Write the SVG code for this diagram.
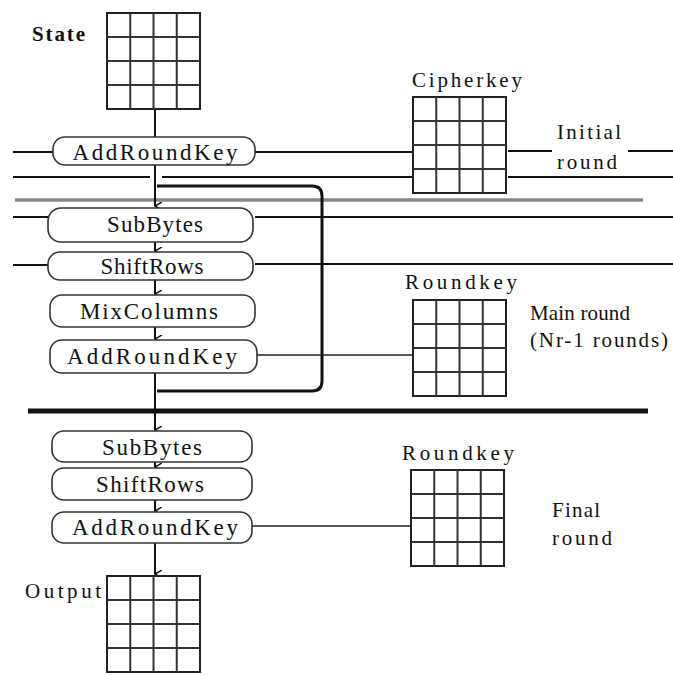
<svg xmlns="http://www.w3.org/2000/svg" width="673" height="675" viewBox="0 0 673 675">
<style>
.box{fill:#fff;stroke:#333;stroke-width:1.6}
.lbl{font-family:"Liberation Serif","DejaVu Serif",serif;font-size:23px;fill:#111;text-anchor:middle;dominant-baseline:central}
.side{font-family:"Liberation Serif","DejaVu Serif",serif;font-size:21px;fill:#111;dominant-baseline:central}
.ln{stroke:#111;stroke-width:2;fill:none}
.thin{stroke:#222;stroke-width:1.5;fill:none}
.grid rect{fill:#fff;stroke:#222;stroke-width:2}
.grid line{stroke:#333;stroke-width:2}
</style>
<defs>
<marker id="ah" markerWidth="8" markerHeight="8" refX="4" refY="7" orient="auto" markerUnits="userSpaceOnUse">
<path d="M0,0 L4,7 L8,0" fill="none" stroke="#111" stroke-width="1.5"/>
</marker>
<g id="grid4" class="grid">
<rect x="0" y="0" width="93" height="96"/>
<line x1="23.25" y1="0" x2="23.25" y2="96"/>
<line x1="46.5" y1="0" x2="46.5" y2="96"/>
<line x1="69.75" y1="0" x2="69.75" y2="96"/>
<line x1="0" y1="24" x2="93" y2="24"/>
<line x1="0" y1="48" x2="93" y2="48"/>
<line x1="0" y1="72" x2="93" y2="72"/>
</g>
</defs>
<rect width="673" height="675" fill="#fff"/>

<g id="connectors">
<line class="ln" x1="13" y1="152" x2="53" y2="152"/>
<line class="ln" x1="255" y1="152" x2="413" y2="152"/>
<line class="ln" x1="508" y1="151" x2="552" y2="151"/>
<line class="ln" x1="628" y1="151" x2="673" y2="151"/>
<line class="ln" x1="13" y1="177" x2="150" y2="177"/>
<line class="ln" x1="162" y1="177" x2="413" y2="177"/>
<line class="ln" x1="508" y1="177" x2="673" y2="177"/>
<line x1="15" y1="200" x2="643" y2="200" stroke="#888" stroke-width="3.5"/>
<line class="ln" x1="13" y1="217" x2="48" y2="217"/>
<line class="ln" x1="255" y1="217" x2="673" y2="217"/>
<line class="ln" x1="13" y1="265" x2="48" y2="265"/>
<line class="ln" x1="255" y1="264" x2="673" y2="264" stroke-width="2.5"/>
<line x1="28" y1="411" x2="648" y2="411" stroke="#111" stroke-width="5"/>
<line class="ln" x1="155" y1="110" x2="155" y2="137"/>
<line class="ln" x1="155" y1="165" x2="155" y2="206" marker-end="url(#ah)"/>
<line class="ln" x1="155" y1="242" x2="155" y2="251" marker-end="url(#ah)"/>
<line class="ln" x1="155" y1="280" x2="155" y2="294" marker-end="url(#ah)"/>
<line class="ln" x1="155" y1="327" x2="155" y2="339" marker-end="url(#ah)"/>
<line class="ln" x1="155" y1="373" x2="155" y2="430" marker-end="url(#ah)"/>
<line class="ln" x1="155" y1="462" x2="155" y2="467" marker-end="url(#ah)"/>
<line class="ln" x1="155" y1="500" x2="155" y2="511" marker-end="url(#ah)"/>
<line class="ln" x1="155" y1="543" x2="155" y2="574" marker-end="url(#ah)"/>
<path d="M157,186 H312 Q322,186 322,196 V381 Q322,391 312,391 H157" fill="none" stroke="#111" stroke-width="3"/>
<line class="thin" x1="257" y1="355" x2="413" y2="355"/>
<line class="thin" x1="252" y1="526" x2="411" y2="526"/>
</g>

<g id="state"><text class="side" x="32" y="34" font-weight="bold" textLength="53">State</text><use href="#grid4" x="107" y="13"/></g>
<g id="addroundkey0"><rect class="box" x="53" y="137" width="202" height="28" rx="12"/><text class="lbl" x="155" y="152" textLength="165">AddRoundKey</text></g>
<g id="cipherkey"><text class="side" x="412" y="80" textLength="110">Cipherkey</text><use href="#grid4" x="413" y="97"/></g>
<g id="initial-label"><text class="side" x="557" y="132" textLength="64">Initial</text><text class="side" x="557" y="162" textLength="60">round</text></g>

<g id="subbytes1"><rect class="box" x="48" y="208" width="205" height="34" rx="13"/><text class="lbl" x="155" y="224" textLength="96">SubBytes</text></g>
<g id="shiftrows1"><rect class="box" x="48" y="252" width="205" height="28" rx="12"/><text class="lbl" x="152" y="266" textLength="103">ShiftRows</text></g>
<g id="mixcolumns"><rect class="box" x="50" y="295" width="205" height="32" rx="12"/><text class="lbl" x="149" y="311" textLength="138">MixColumns</text></g>
<g id="addroundkey1"><rect class="box" x="50" y="340" width="207" height="33" rx="12"/><text class="lbl" x="152" y="356" textLength="170">AddRoundKey</text></g>
<g id="roundkey1"><text class="side" x="405" y="282" textLength="112">Roundkey</text><use href="#grid4" x="413" y="300"/></g>
<g id="main-label"><text class="side" x="530" y="313" textLength="100">Main round</text><text class="side" x="530" y="340" textLength="138">(Nr-1 rounds)</text></g>

<g id="subbytes2"><rect class="box" x="52" y="431" width="200" height="31" rx="12"/><text class="lbl" x="152" y="447" textLength="100">SubBytes</text></g>
<g id="shiftrows2"><rect class="box" x="52" y="468" width="200" height="32" rx="12"/><text class="lbl" x="150" y="484" textLength="108">ShiftRows</text></g>
<g id="addroundkey2"><rect class="box" x="52" y="512" width="200" height="31" rx="12"/><text class="lbl" x="155" y="527" textLength="166">AddRoundKey</text></g>
<g id="roundkey2"><text class="side" x="402" y="453" textLength="112">Roundkey</text><use href="#grid4" x="411" y="470"/></g>
<g id="final-label"><text class="side" x="552" y="510" textLength="48">Final</text><text class="side" x="552" y="538" textLength="60">round</text></g>

<g id="output"><text class="side" x="25" y="591" textLength="76">Output</text><use href="#grid4" x="107" y="576"/></g>
</svg>
